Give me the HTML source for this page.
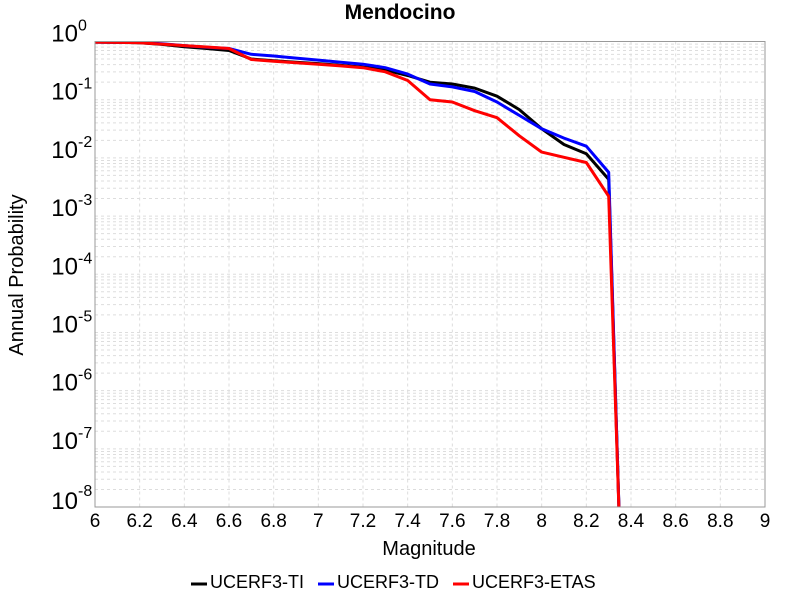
<!DOCTYPE html>
<html><head><meta charset="utf-8"><style>
html,body{margin:0;padding:0;background:#fff;width:800px;height:600px;overflow:hidden;}
svg{display:block;font-family:"Liberation Sans",sans-serif;overflow:hidden;}
</style></head><body>
<svg id="chart" width="800" height="600">
<text x="400" y="19" text-anchor="middle" font-size="21" font-weight="bold">Mendocino</text>
<g id="grid"></g>
<g id="xticks"></g>
<g id="yticks"></g>
<g id="lines" clip-path="url(#clip)"></g>
<defs><clipPath id="clip"><rect x="95" y="41" width="670" height="466"/></clipPath></defs>
<rect x="95" y="41.5" width="670" height="465.5" fill="none" stroke="#999" stroke-width="1"/>
<text x="429" y="555" text-anchor="middle" font-size="20">Magnitude</text>
<text transform="translate(23,275) rotate(-90)" text-anchor="middle" font-size="20">Annual Probability</text>
<g>
<g><line x1="191" y1="584" x2="207" y2="584" stroke="#000" stroke-width="3"/><text x="210" y="588" font-size="18">UCERF3-TI</text></g>
<g><line x1="318" y1="584" x2="334" y2="584" stroke="#00f" stroke-width="3"/><text x="337" y="588" font-size="18">UCERF3-TD</text></g>
<g><line x1="453" y1="584" x2="469" y2="584" stroke="#f00" stroke-width="3"/><text x="472" y="588" font-size="18">UCERF3-ETAS</text></g>
</g>
</svg>
<script>
const mags = [6.0,6.1,6.2,6.3,6.4,6.5,6.6,6.7,6.8,6.9,7.0,7.1,7.2,7.3,7.4,7.5,7.6,7.7,7.8,7.9,8.0,8.1,8.2,8.3,8.35];
const tiLog = [-0.01,-0.015,-0.02,-0.05,-0.09,-0.12,-0.155,-0.30,-0.33,-0.355,-0.38,-0.41,-0.44,-0.49,-0.585,-0.70,-0.73,-0.80,-0.94,-1.17,-1.50,-1.77,-1.93,-2.37,-8.5];
const tdLog = [-0.01,-0.012,-0.015,-0.04,-0.07,-0.10,-0.12,-0.22,-0.25,-0.285,-0.32,-0.355,-0.39,-0.45,-0.56,-0.73,-0.78,-0.86,-1.04,-1.27,-1.50,-1.66,-1.80,-2.25,-8.5];
const etasLog = [-0.01,-0.015,-0.02,-0.045,-0.07,-0.095,-0.12,-0.31,-0.34,-0.365,-0.39,-0.42,-0.45,-0.52,-0.67,-1.00,-1.04,-1.19,-1.31,-1.62,-1.90,-1.99,-2.08,-2.66,-8.5];
const xTicks = ["6","6.2","6.4","6.6","6.8","7","7.2","7.4","7.6","7.8","8","8.2","8.4","8.6","8.8","9"];
const yExps = [0,-1,-2,-3,-4,-5,-6,-7,-8];

const X0=95,X1=765,Y0=41.5,Y1=507;
const xs = m => X0 + (m-6)/3*(X1-X0);
const ys = l => Y0 + (0-l)/8*(Y1-Y0);
const NS="http://www.w3.org/2000/svg";
function mk(tag, attrs, parent){const e=document.createElementNS(NS,tag);for(const k in attrs)e.setAttribute(k,attrs[k]);parent.appendChild(e);return e;}
const grid=document.getElementById('grid'), xt=document.getElementById('xticks'), yt=document.getElementById('yticks'), lines=document.getElementById('lines');
xTicks.forEach(t=>{
  const x=xs(parseFloat(t));
  const g=mk('line',{x1:x,x2:x,y1:Y0,y2:Y1,stroke:'#ddd','stroke-dasharray':'3,3'},grid);
  
  
  const tx=mk('text',{x:x,y:527,'text-anchor':'middle','font-size':19},xt);
  tx.textContent=t;
  
  
});
for(let d=0; d>-8; d--){
  for(let k=1;k<=9;k++){
    const y=ys(d-1+Math.log10(k));
    const g=mk('line',{x1:X0,x2:X1,y1:y,y2:y,stroke:'#ddd','stroke-dasharray':'3,3'},grid);
    
    
  }
}
yExps.forEach(e=>{
  const y=ys(e);
  const tx=mk('text',{x:78,y:y+(e===-8?2:0),'text-anchor':'end','font-size':24},yt);
  tx.textContent='10';
  
  
  const s=mk('text',{x:78,y:y-11,'text-anchor':'start','font-size':16},yt);
  s.textContent=String(e);
  
  
});
[[tiLog,'#000','series-ucerf3-ti'],[tdLog,'#00f','series-ucerf3-td'],[etasLog,'#f00','series-ucerf3-etas']].forEach(([vals,col,name])=>{
  const pts=mags.map((m,i)=>xs(m).toFixed(1)+','+ys(vals[i]).toFixed(1)).join(' ');
  const p=mk('polyline',{points:pts,fill:'none',stroke:col,'stroke-width':3,'stroke-linejoin':'round'},lines);
  
  
});
</script>
</body></html>
